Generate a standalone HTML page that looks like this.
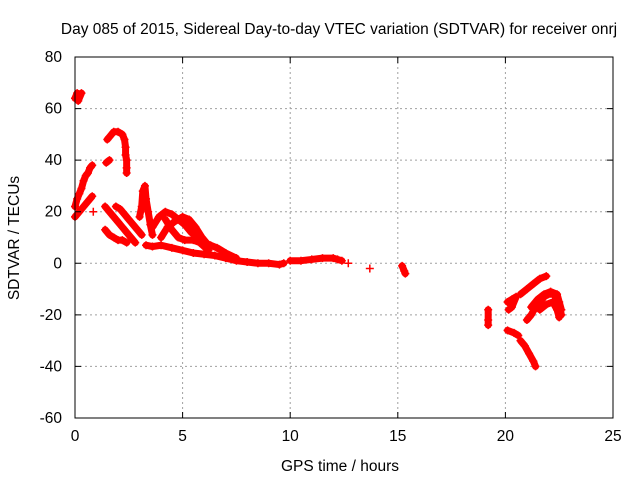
<!DOCTYPE html>
<html><head><meta charset="utf-8"><style>
body{margin:0;background:#fff}
svg{display:block;font-family:"Liberation Sans",Arial,sans-serif;font-size:15.5px}
</style></head><body>
<svg id="c" width="640" height="480" viewBox="0 0 640 480">
<rect width="640" height="480" fill="#fff"/>
<text x="339" y="34" text-anchor="middle">Day 085 of 2015, Sidereal Day-to-day VTEC variation (SDTVAR) for receiver onrj</text>
<g id="grid"></g>
<g id="data"></g>
<g id="axes"></g>
<text x="340" y="471" text-anchor="middle">GPS time / hours</text>
<text transform="translate(19,238) rotate(-90)" text-anchor="middle">SDTVAR / TECUs</text>
</svg>
<script>
const xTicks=[0,5,10,15,20,25];
const yTicks=[-60,-40,-20,0,20,40,60,80];
const arcA=[[0,64],[0.1,66],[0.2,65],[0.3,66],[0.15,63]];
const arcB=[[0,22],[0.1,25],[0.2,27],[0.3,29],[0.4,32],[0.5,34],[0.6,35],[0.7,37],[0.8,38]];
const arcC=[[0,18],[0.2,20],[0.4,22],[0.6,24],[0.8,26]];
const arcC2=[[0.85,20]];
const arcD=[[1.45,39],[1.6,40]];
const arcE=[[1.5,48],[1.6,49],[1.8,51],[2.0,51],[2.2,50],[2.3,48],[2.35,45],[2.35,42],[2.4,40],[2.4,37],[2.4,35]];
const arcF=[[1.4,22],[1.6,20],[1.8,18],[2.0,16],[2.2,14],[2.4,12],[2.6,10],[2.8,8]];
const arcF2=[[1.4,13],[1.6,11],[1.8,10],[2.0,9],[2.2,9],[2.4,8]];
const arcF3=[[1.9,22],[2.1,21],[2.3,19],[2.5,17],[2.7,15],[2.9,13],[3.1,11]];
const arcG=[[3.0,18],[3.1,22],[3.15,28],[3.25,30],[3.3,25],[3.4,20],[3.5,15],[3.6,11]];
const arcH=[[3.3,7],[3.6,6.5],[4,7],[4.5,6],[5,5],[5.5,4],[6,3.5],[6.5,3],[7,2],[7.5,1],[8,0.5],[8.5,0],[9,0],[9.5,-0.5],[9.7,0]];
const arcI=[[3.6,14],[3.9,18],[4.2,20],[4.5,19],[4.8,17],[5.1,15],[5.4,12],[5.7,10],[6,8],[6.3,7],[6.6,6],[7,4],[7.5,2]];
const arcI2=[[4,10],[4.3,14],[4.6,16],[5,18],[5.3,17],[5.6,14],[5.9,10],[6.2,7]];
const arcJ=[[4.2,17],[4.5,13],[4.8,10],[5.1,9],[5.5,9],[5.8,8],[6.2,5]];
const arcK=[[10,1],[10.5,1],[11,1.5],[11.5,2],[12,2],[12.2,1.5],[12.4,1]];
const arcK2=[[12.7,0]];
const arcL=[[13.7,-2]];
const arcL2=[[15.2,-1],[15.3,-3],[15.35,-4]];
const arcM=[[19.2,-18],[19.2,-22],[19.2,-24]];
const arcN=[[20.1,-15],[20.3,-14],[20.5,-13],[20.3,-17],[20.15,-18]];
const arcO=[[20.7,-12],[21.0,-10],[21.3,-8],[21.6,-6],[21.9,-5]];
const arcP=[[20.1,-26],[20.4,-27],[20.6,-28]];
const arcQ=[[20.7,-30],[20.9,-32],[21.1,-35],[21.3,-38],[21.4,-40]];
const arcR=[[21.0,-22],[21.2,-20],[21.4,-17],[21.6,-15],[21.8,-13],[22,-12],[22.2,-12],[22.4,-13],[22.5,-16],[22.6,-20]];
const arcR2=[[21.2,-17],[21.5,-14],[21.8,-12],[22.1,-11],[22.4,-12],[22.5,-15],[22.6,-18]];
const arcR3=[[21.6,-18],[21.9,-16],[22.2,-15],[22.4,-18],[22.5,-21]];
const series=[arcA,arcB,arcC,arcC2,arcD,arcE,arcF,arcF2,arcF3,arcG,arcH,arcI,arcI2,arcJ,arcK,arcK2,arcL,arcL2,arcM,arcN,arcO,arcP,arcQ,arcR,arcR2,arcR3];

const L=75,R=613,T=57,B=418,xMin=0,xMax=25,yMin=-60,yMax=80;
const sx=v=>L+(v-xMin)/(xMax-xMin)*(R-L);
const sy=v=>B-(v-yMin)/(yMax-yMin)*(B-T);
const NS="http://www.w3.org/2000/svg";
function mk(tag,attrs,parent){const e=document.createElementNS(NS,tag);for(const k in attrs)e.setAttribute(k,attrs[k]);parent.appendChild(e);return e;}
const grid=document.getElementById('grid'),axes=document.getElementById('axes'),data=document.getElementById('data');
xTicks.forEach(t=>{
  const x=sx(t);
  if(t>xMin&&t<xMax){const g=mk('line',{x1:x,x2:x,y1:T,y2:B,stroke:'#a0a0a0','stroke-dasharray':'2,3'},grid);
  
  }
  const tk=mk('path',{d:`M${x},${B}v-6M${x},${T}v6`,stroke:'#000'},axes);
  
  
  const tx=mk('text',{x:x,y:B+23,'text-anchor':'middle'},axes);tx.textContent=t;
  
  
});
yTicks.forEach(t=>{
  const y=sy(t);
  if(t>yMin&&t<yMax){const g=mk('line',{x1:L,x2:R,y1:y,y2:y,stroke:'#a0a0a0','stroke-dasharray':'2,3'},grid);
  
  }
  const tk=mk('path',{d:`M${L},${y}h6M${R},${y}h-6`,stroke:'#000'},axes);
  
  
  const tx=mk('text',{x:L-13,y:y+5,'text-anchor':'end'},axes);tx.textContent=t;
  
  
});
const fr=mk('rect',{x:L,y:T,width:R-L,height:B-T,fill:'none',stroke:'#000'},axes);


series.forEach(s=>{
  if(s.length>1){
    const pl=mk('polyline',{points:s.map(p=>sx(p[0])+','+sy(p[1])).join(' '),fill:'none',stroke:'#f00','stroke-width':7,'stroke-linejoin':'round','stroke-linecap':'round'},data);
    
    
  }
  s.forEach(p=>{
    const x=sx(p[0]),y=sy(p[1]);
    const m=mk('path',{d:`M${x-4},${y}h8M${x},${y-4}v8`,stroke:'#f00','stroke-width':1.5},data);
    
    
  });
});
</script>
</body></html>
